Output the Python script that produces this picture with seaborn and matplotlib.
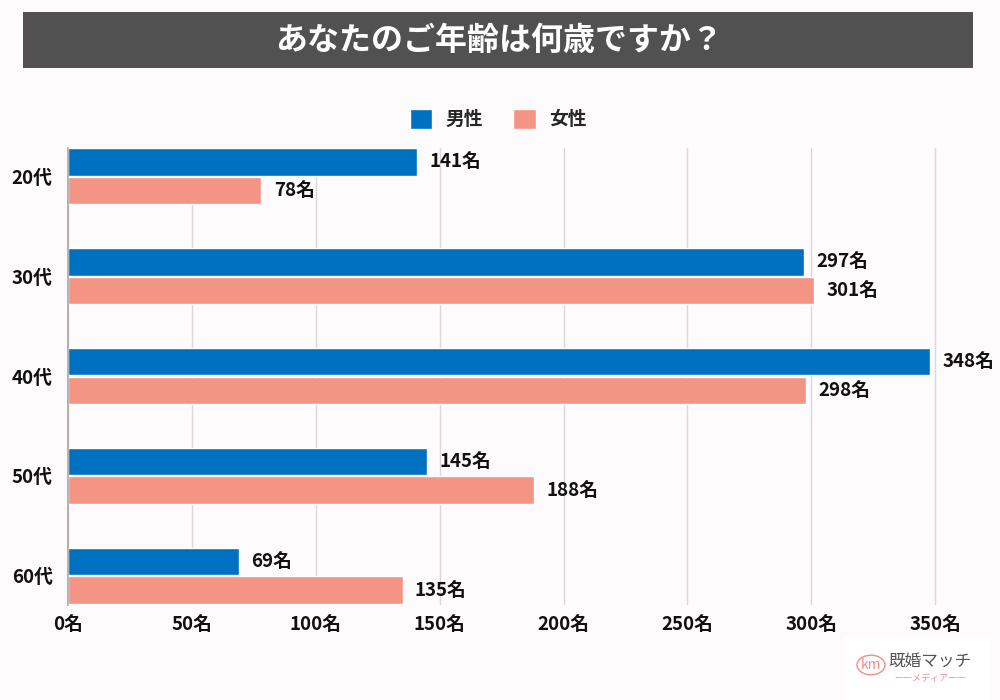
import matplotlib
matplotlib.use("Agg")
import matplotlib.pyplot as plt
import seaborn as sns
import pandas as pd
from matplotlib.patches import Rectangle, Circle, Patch

categories = ["20代", "30代", "40代", "50代", "60代"]
male = [141, 297, 348, 145, 69]
female = [78, 301, 298, 188, 135]
series = ["男性", "女性"]
xticks = [0, 50, 100, 150, 200, 250, 300, 350]
title = "あなたのご年齢は何歳ですか？"

sns.set_theme(style="white")
plt.rcParams['font.family'] = ['Noto Sans CJK JP', 'DejaVu Sans']

bg = "#FDFBFB"
blue = "#0070C0"
pink = "#F49484"

df = pd.DataFrame({
    "age": categories * 2,
    "count": male + female,
    "sex": [series[0]] * len(categories) + [series[1]] * len(categories),
})

fig = plt.figure(figsize=(10, 7), dpi=100, facecolor=bg)
ax = fig.add_axes([0.068, 0.136, 0.892, 0.653])
ax.set_facecolor(bg)

sns.barplot(data=df, y="age", x="count", hue="sex", order=categories,
            hue_order=series, palette=[blue, pink], orient="h",
            width=0.57, gap=0.04, ax=ax, legend=False, saturation=1)

ax.set_xlim(0, 360)
ax.set_ylim(4.29, -0.285)
ax.set_xticks(xticks)
ax.set_xticklabels([f"{v}名" for v in xticks], fontsize=13.5, fontweight="bold", color="#111")
ax.set_yticks(range(len(categories)))
ax.set_yticklabels(categories, fontsize=13.5, fontweight="bold", color="#111")
ax.tick_params(axis="y", length=0, pad=11)
ax.tick_params(axis="x", length=0, pad=7)
ax.set_xlabel("")
ax.set_ylabel("")
ax.grid(axis="x", color="#D9D9D9", linewidth=1)
ax.set_axisbelow(True)
for s in ["top", "right", "bottom"]:
    ax.spines[s].set_visible(False)
ax.spines["left"].set_color("#A6A6A6")
ax.spines["left"].set_linewidth(1.2)

for cont in ax.containers:
    ax.bar_label(cont, labels=[f"{int(v)}名" for v in cont.datavalues],
                 padding=9, fontsize=13.5, fontweight="bold", color="#111")

handles = [Patch(facecolor=blue, label=series[0]), Patch(facecolor=pink, label=series[1])]
fig.legend(handles=handles, loc="center", bbox_to_anchor=(0.498, 0.83), ncol=2,
           frameon=False, prop={"size": 13.5, "weight": "bold"},
           handlelength=1.2, handleheight=1.3, columnspacing=1.6, handletextpad=0.7)

# title banner
fig.patches.append(Rectangle((0.023, 1 - 68 / 700), 0.95, 56 / 700,
                             transform=fig.transFigure, facecolor="#515151",
                             edgecolor="none", zorder=0))
fig.text(0.499, 1 - 41 / 700, title, ha="center", va="center", color="white",
         fontsize=23, fontweight="bold")

# watermark
fig.patches.append(Rectangle((0.845, 0.0), 0.145, 0.09, transform=fig.transFigure,
                             facecolor="white", edgecolor="none", zorder=0))
fig.patches.append(Circle((0.871, 0.050), 0.014, transform=fig.transFigure,
                          facecolor="none", edgecolor="#F08C8C", linewidth=1))
fig.text(0.871, 0.050, "km", ha="center", va="center", color="#F08C8C", fontsize=10)
fig.text(0.930, 0.055, "既婚マッチ", ha="center", va="center", color="#555", fontsize=12)
fig.text(0.930, 0.030, "――メディア――", ha="center", va="center", color="#F08C8C", fontsize=6.5)

fig.savefig("out.png", dpi=100, facecolor=bg)
